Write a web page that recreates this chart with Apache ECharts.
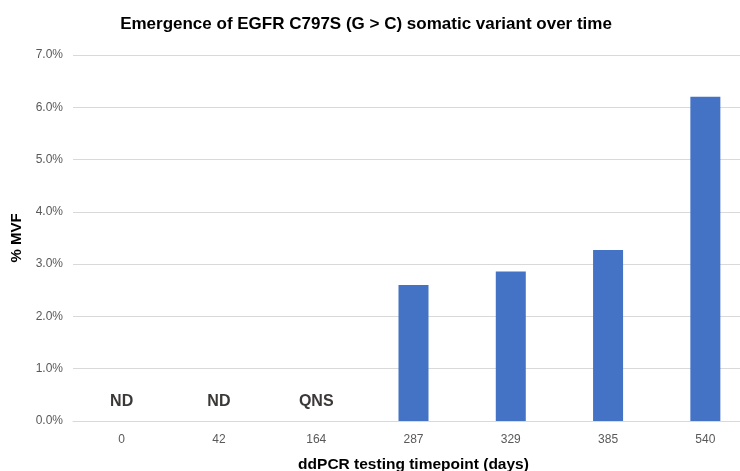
<!DOCTYPE html>
<html>
<head>
<meta charset="utf-8">
<script src="https://cdn.jsdelivr.net/npm/echarts@6/dist/echarts.min.js"></script>
<style>html,body{margin:0;padding:0;background:#fff;}#c{width:740px;height:471px;}</style>
</head>
<body>
<div id="c"></div>
<script>
var categories = ["0", "42", "164", "287", "329", "385", "540"];
var values = [0, 0, 0, 2.6, 2.86, 3.27, 6.2];
var notes = ["ND", "ND", "QNS", "", "", "", ""];
var yTicks = [0, 1, 2, 3, 4, 5, 6, 7];

var chart = echarts.init(document.getElementById('c'), null, {renderer: 'canvas'});
var font = 'Liberation Sans, Arial, sans-serif';
chart.setOption({
  animation: false,
  backgroundColor: '#ffffff',
  title: {
    text: 'Emergence of EGFR C797S (G > C) somatic variant over time',
    left: 361, top: 11, textAlign: 'center',
    textStyle: {fontFamily: font, fontSize: 17, fontWeight: 'bold', color: '#000000'}
  },
  grid: {left: 73, top: 55, right: -14, bottom: 50, containLabel: false, outerBoundsMode: 'none'},
  xAxis: {
    type: 'category', data: categories,
    axisLine: {show: true, lineStyle: {color: '#d9d9d9', width: 1}},
    axisTick: {show: false},
    axisLabel: {color: '#595959', fontFamily: font, fontSize: 12, margin: 13},
    name: 'ddPCR testing timepoint (days)', nameLocation: 'middle', nameGap: 36,
    nameTextStyle: {fontFamily: font, fontSize: 15.5, fontWeight: 'bold', color: '#000000'}
  },
  yAxis: {
    type: 'value', min: yTicks[0], max: yTicks[yTicks.length - 1], interval: 1,
    axisLine: {show: false}, axisTick: {show: false},
    splitLine: {lineStyle: {color: '#d9d9d9', width: 1}},
    axisLabel: {color: '#595959', fontFamily: font, fontSize: 12, margin: 10,
      formatter: function (v) { return v.toFixed(1) + '%'; }},
    name: '% MVF', nameLocation: 'middle', nameGap: 43, nameRotate: 90,
    nameTextStyle: {fontFamily: font, fontSize: 15, fontWeight: 'bold', color: '#000000'}
  },
  series: [{
    type: 'bar', barWidth: 30,
    itemStyle: {color: '#4472c4'},
    data: values.map(function (v, i) {
      return {
        value: v,
        label: {show: notes[i] !== '', position: 'top', distance: 11,
          formatter: notes[i], fontFamily: font, fontSize: 16, fontWeight: 'bold', color: '#3b3838'}
      };
    })
  }]
});
</script>
</body>
</html>
